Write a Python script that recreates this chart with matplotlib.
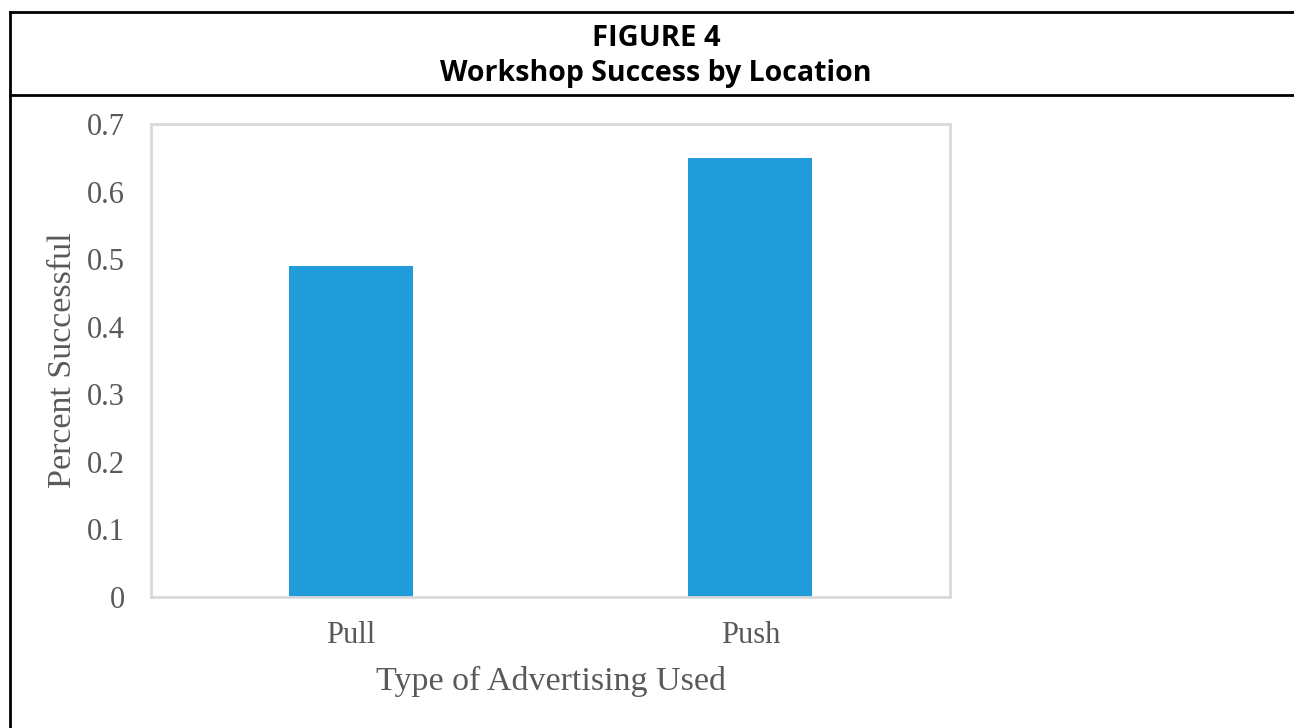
import matplotlib
matplotlib.use("Agg")
import matplotlib.pyplot as plt
from matplotlib.lines import Line2D

categories = ["Pull", "Push"]
success_rate = [0.49, 0.65]
y_ticks = [0, 0.1, 0.2, 0.3, 0.4, 0.5, 0.6, 0.7]
y_tick_labels = ["0", "0.1", "0.2", "0.3", "0.4", "0.5", "0.6", "0.7"]

W, H, DPI = 1294, 728, 100
fig = plt.figure(figsize=(W / DPI, H / DPI), dpi=DPI)
fig.patch.set_facecolor("white")

# Frame around the figure with the header rule
frame_kw = dict(color="black", lw=2, transform=fig.transFigure)
fig.add_artist(Line2D([10 / W, 10 / W], [0, 1 - 12 / H], **frame_kw))
fig.add_artist(Line2D([10 / W, 1], [1 - 12 / H, 1 - 12 / H], **frame_kw))
fig.add_artist(Line2D([10 / W, 1], [1 - 95 / H, 1 - 95 / H], **frame_kw))

title_font = ["Open Sans", "DejaVu Sans"]
fig.text(656 / W, 1 - 38 / H, "FIGURE 4", ha="center", va="center",
         fontsize=21, fontweight="bold", family=title_font, color="black")
fig.text(656 / W, 1 - 73 / H, "Workshop Success by Location", ha="center",
         va="center", fontsize=20.5, fontweight="bold", family=title_font,
         color="black")

# Plot area
ax = fig.add_axes([151 / W, 1 - 597 / H, (950 - 151) / W, (597 - 124) / H])
x = range(len(categories))
ax.bar(x, success_rate, width=0.31, color="#1f9cd9", zorder=2)
ax.set_xlim(-0.5, len(categories) - 0.5)
ax.set_ylim(0, 0.7)

serif = ["Liberation Serif", "DejaVu Serif"]
text_color = "#595959"
ax.set_yticks(y_ticks)
ax.set_yticklabels(y_tick_labels, family=serif, fontsize=22, color=text_color)
ax.set_xticks(list(x))
ax.set_xticklabels(categories, family=serif, fontsize=22, color=text_color)
ax.tick_params(axis="both", length=0)
ax.tick_params(axis="y", pad=19)
ax.tick_params(axis="x", pad=17.5)

for side in ax.spines.values():
    side.set_color("#d9d9d9")
    side.set_linewidth(2)

ax.set_ylabel("Percent Successful", family=serif, fontsize=24.5,
              color=text_color, labelpad=6)
ax.set_xlabel("Type of Advertising Used", family=serif, fontsize=24.5,
              color=text_color, labelpad=11)

fig.savefig("out.png", dpi=DPI)
